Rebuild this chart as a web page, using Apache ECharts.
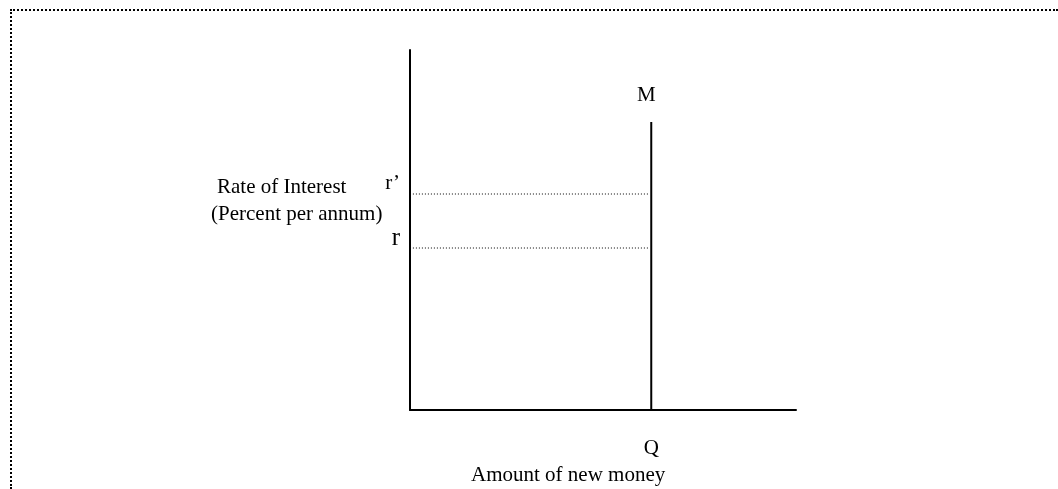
<!DOCTYPE html>
<html>
<head>
<meta charset="utf-8">
<script src="https://cdn.jsdelivr.net/npm/echarts@6/dist/echarts.min.js"></script>
<style>
  html, body { margin: 0; padding: 0; background: #fff; }
  .frame {
    position: absolute;
    left: 10px;
    top: 9px;
    right: 0;
    bottom: 0;
    border-top: 2px dotted #000;
    border-left: 2px dotted #000;
  }
  #chart { position: absolute; left: 0; top: 0; width: 1058px; height: 489px; }
</style>
</head>
<body>
<div class="frame"></div>
<div id="chart"></div>
<script>
// axis extents (arbitrary units of the diagram)
const xRange = [0, 8]
const yRange = [0, 40]

// money supply: vertical line at quantity Q
const supplyQ = 5
const supplyTop = 32
const supplyName = 'M'

// interest rates
const rateLabels = ['r', 'r\u2019']
const rateValues = [18, 24]
const dotStart = 0.06
const dotEnd = 4.94

const qLabel = 'Q'
const xName = 'Amount of new money'
const yName = ['Rate of Interest', '(Percent per annum)']

const font = '"Liberation Serif", "Times New Roman", serif'
const fs = 21

const chart = echarts.init(document.getElementById('chart'))

const dotted = rateValues.map((v) => ({
  type: 'line',
  data: [[dotStart, v], [dotEnd, v]],
  symbol: 'none',
  silent: true,
  lineStyle: { color: '#000', width: 1, type: [1, 2] }
}))

chart.setOption({
  animation: false,
  textStyle: { fontFamily: font },
  title: [
    {
      text: yName[0],
      left: 212, top: 172,
      textStyle: { fontFamily: font, fontSize: fs, fontWeight: 'normal', color: '#000' }
    },
    {
      text: yName[1],
      left: 206, top: 199,
      textStyle: { fontFamily: font, fontSize: fs, fontWeight: 'normal', color: '#000' }
    },
    {
      text: xName,
      left: 466, top: 460,
      textStyle: { fontFamily: font, fontSize: fs, fontWeight: 'normal', color: '#000' }
    }
  ],
  grid: { left: 410, top: 50, width: 386, height: 360, outerBoundsMode: 'none' },
  xAxis: {
    type: 'value',
    min: xRange[0],
    max: xRange[1],
    splitLine: { show: false },
    axisTick: { show: false },
    axisLine: { onZero: false, lineStyle: { color: '#000', width: 2 } },
    axisLabel: {
      customValues: [supplyQ],
      formatter: () => qLabel,
      margin: 28,
      fontFamily: font,
      fontSize: fs,
      color: '#000'
    }
  },
  yAxis: {
    type: 'value',
    min: yRange[0],
    max: yRange[1],
    splitLine: { show: false },
    axisTick: { show: false },
    axisLine: { show: true, onZero: false, lineStyle: { color: '#000', width: 2 } },
    axisLabel: {
      customValues: rateValues,
      formatter: (v) => rateLabels[rateValues.indexOf(v)] === 'r' ? '{big|r}' : rateLabels[rateValues.indexOf(v)],
      margin: 10,
      verticalAlign: 'bottom',
      fontFamily: font,
      fontSize: fs,
      color: '#000',
      rich: { big: { fontFamily: font, fontSize: 25, color: '#000', padding: [0, 0, -3, 0] } }
    }
  },
  series: [
    ...dotted,
    {
      type: 'line',
      data: [
        [supplyQ, 0],
        {
          value: [supplyQ, supplyTop],
          label: {
            show: true,
            formatter: supplyName,
            position: 'top',
            distance: 16,
            offset: [-5, 0],
            fontFamily: font,
            fontSize: fs,
            color: '#000'
          }
        }
      ],
      symbol: 'circle',
      symbolSize: 0,
      showSymbol: true,
      silent: true,
      itemStyle: { color: '#000' },
      lineStyle: { color: '#000', width: 2 }
    }
  ]
})
</script>
</body>
</html>
